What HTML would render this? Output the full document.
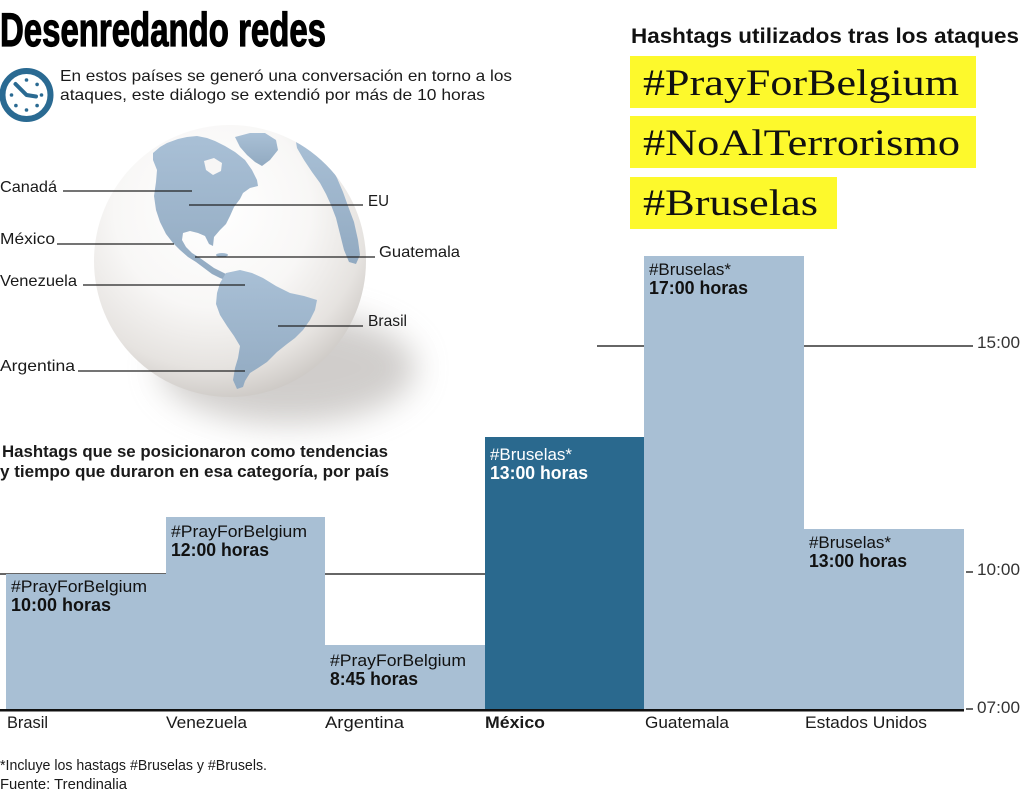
<!DOCTYPE html>
<html>
<head>
<meta charset="utf-8">
<style>
html,body{margin:0;padding:0;background:#ffffff;}
svg{display:block;}
</style>
</head>
<body>
<svg width="1024" height="793" viewBox="0 0 1024 793" xmlns="http://www.w3.org/2000/svg" font-family="'Liberation Sans', sans-serif">
  <defs>
    <radialGradient id="gl" cx="0.42" cy="0.32" r="0.72" fx="0.45" fy="0.3">
      <stop offset="0" stop-color="#ffffff"/>
      <stop offset="0.5" stop-color="#f8f7f6"/>
      <stop offset="0.8" stop-color="#e6e3e0"/>
      <stop offset="1" stop-color="#c9c5c1"/>
    </radialGradient>
    <linearGradient id="land" x1="0" y1="0" x2="0" y2="1">
      <stop offset="0" stop-color="#a9c0d6"/>
      <stop offset="1" stop-color="#92aac1"/>
    </linearGradient>
    <filter id="blur" x="-50%" y="-50%" width="200%" height="200%">
      <feGaussianBlur stdDeviation="16"/>
    </filter>
    <clipPath id="gc"><circle cx="230" cy="261" r="136"/></clipPath>
  </defs>

  <!-- Title -->
  <text x="0" y="46" font-size="47" font-weight="bold" fill="#000" stroke="#000" stroke-width="1.2" textLength="326" lengthAdjust="spacingAndGlyphs">Desenredando redes</text>

  <!-- Clock icon -->
  <circle cx="26.5" cy="95" r="24" fill="#fff" stroke="#2a6a92" stroke-width="6"/>
  <polyline points="15.5,84 26.5,95 36,96.5" fill="none" stroke="#2a6a92" stroke-width="4" stroke-linecap="round" stroke-linejoin="round"/>
  <g fill="#2a6a92">
    <circle cx="26.5" cy="80" r="1.8"/>
    <circle cx="37.1" cy="84.4" r="1.8"/>
    <circle cx="41.5" cy="95" r="1.8"/>
    <circle cx="37.1" cy="105.6" r="1.8"/>
    <circle cx="26.5" cy="110" r="1.8"/>
    <circle cx="15.9" cy="105.6" r="1.8"/>
    <circle cx="11.5" cy="95" r="1.8"/>
  </g>

  <!-- Subtitle -->
  <text x="60" y="81" font-size="16" fill="#1a1a1a" textLength="452" lengthAdjust="spacingAndGlyphs">En estos países se generó una conversación en torno a los</text>
  <text x="60" y="100" font-size="16" fill="#1a1a1a" textLength="425" lengthAdjust="spacingAndGlyphs">ataques, este diálogo se extendió por más de 10 horas</text>

  <!-- Right header + hashtags -->
  <text x="631" y="43" font-size="21" font-weight="bold" fill="#111" textLength="388" lengthAdjust="spacingAndGlyphs">Hashtags utilizados tras los ataques</text>
  <rect x="630" y="56" width="346" height="52" fill="#fdf92c"/>
  <rect x="630" y="116" width="346" height="52" fill="#fdf92c"/>
  <rect x="630" y="177" width="207" height="52" fill="#fdf92c"/>
  <g font-family="'Liberation Serif', serif" font-size="37" fill="#111">
    <text x="643" y="95" textLength="316" lengthAdjust="spacingAndGlyphs">#PrayForBelgium</text>
    <text x="643" y="155" textLength="317" lengthAdjust="spacingAndGlyphs">#NoAlTerrorismo</text>
    <text x="643" y="215" textLength="175" lengthAdjust="spacingAndGlyphs">#Bruselas</text>
  </g>

  <!-- Globe shadow -->
  <ellipse cx="288" cy="368" rx="128" ry="56" fill="#aaa6a2" opacity="0.55" filter="url(#blur)"/>
  <!-- Globe -->
  <circle cx="230" cy="261" r="136" fill="url(#gl)"/>
  <g clip-path="url(#gc)" fill="url(#land)">
    <!-- North America -->
    <path d="M153,153 L160,147 L167,143 L178,139 L187,137 L197,136 L207,138 L215,141 L225,146 L235,152 L245,160 L252,170 L257,180 L258,186 L250,188 L243,193 L240,199 L234,207 L230,216 L226,224 L220,230 L214,237 L213,246 L209,244 L205,236 L198,233 L190,231 L183,233 L182,240 L186,247 L192,253 L200,258 L207,263 L214,268 L222,272 L230,276 L234,280 L228,281 L220,278 L212,274 L204,268 L196,262 L188,257 L180,250 L173,243 L166,234 L160,222 L156,210 L154,196 L156,182 L157,170 L153,160 Z"/>
    <!-- Greenland -->
    <path d="M235,137 L250,133 L265,133 L276,140 L278,150 L270,160 L262,166 L255,162 L247,155 L240,147 Z"/>
    <!-- Europe / Africa -->
    <path d="M295,136 L308,143 L320,153 L330,165 L337,178 L343,192 L348,206 L354,222 L358,240 L360,255 L356,264 L349,262 L344,250 L340,234 L336,218 L331,205 L326,194 L320,183 L312,172 L304,160 L297,148 Z"/>
    <!-- South America -->
    <path d="M226,273 L240,270 L252,273 L263,278 L276,286 L290,293 L304,296 L317,300 L315,310 L310,320 L303,330 L295,338 L287,344 L277,352 L267,362 L258,368 L250,373 L245,381 L243,387 L237,389 L233,380 L235,368 L238,358 L240,346 L234,336 L227,326 L220,315 L216,304 L217,293 L220,283 Z"/>
    <ellipse cx="222" cy="255" rx="6" ry="2" />
  </g>
  <!-- Hudson Bay -->
  <path d="M204,161 L214,158 L222,163 L221,171 L213,175 L206,170 Z" fill="#f7f6f5"/>

  <!-- Globe labels -->
  <g font-size="16" fill="#1a1a1a">
    <text x="0" y="192" textLength="57" lengthAdjust="spacingAndGlyphs">Canadá</text>
    <text x="368" y="206" textLength="21" lengthAdjust="spacingAndGlyphs">EU</text>
    <text x="0" y="244" textLength="55" lengthAdjust="spacingAndGlyphs">México</text>
    <text x="379" y="257" textLength="81" lengthAdjust="spacingAndGlyphs">Guatemala</text>
    <text x="0" y="286" textLength="77" lengthAdjust="spacingAndGlyphs">Venezuela</text>
    <text x="368" y="326" textLength="39" lengthAdjust="spacingAndGlyphs">Brasil</text>
    <text x="0" y="371" textLength="75" lengthAdjust="spacingAndGlyphs">Argentina</text>
  </g>
  <g stroke="#222" stroke-width="1.3">
    <line x1="63" y1="191" x2="192" y2="191"/>
    <line x1="189" y1="205" x2="363" y2="205"/>
    <line x1="57" y1="244" x2="174" y2="244"/>
    <line x1="195" y1="257" x2="375" y2="257"/>
    <line x1="83" y1="285" x2="245" y2="285"/>
    <line x1="278" y1="326" x2="363" y2="326"/>
    <line x1="78" y1="371" x2="245" y2="371"/>
  </g>

  <!-- Chart subtitle -->
  <text x="2" y="457" font-size="16.5" font-weight="bold" fill="#1a1a1a" textLength="386" lengthAdjust="spacingAndGlyphs">Hashtags que se posicionaron como tendencias</text>
  <text x="0" y="477" font-size="16.5" font-weight="bold" fill="#1a1a1a" textLength="389" lengthAdjust="spacingAndGlyphs">y tiempo que duraron en esa categoría, por país</text>

  <!-- Gridlines -->
  <g stroke="#333" stroke-width="1.5">
    <line x1="0" y1="574" x2="485" y2="574"/>
    <line x1="597" y1="346" x2="973" y2="346"/>
    <line x1="966" y1="572" x2="973" y2="572"/>
    <line x1="966" y1="709" x2="973" y2="709"/>
  </g>

  <!-- Bars -->
  <rect x="6" y="574" width="160" height="136" fill="#a8bfd4"/>
  <rect x="166" y="517" width="159" height="193" fill="#a8bfd4"/>
  <rect x="325" y="645" width="160" height="65" fill="#a8bfd4"/>
  <rect x="485" y="437" width="159" height="273" fill="#2a698e"/>
  <rect x="644" y="256" width="160" height="454" fill="#a8bfd4"/>
  <rect x="804" y="529" width="160" height="181" fill="#a8bfd4"/>

  <!-- Baseline -->
  <rect x="0" y="709" width="964" height="2.5" fill="#111"/>

  <!-- Bar labels -->
  <g fill="#111">
    <text x="11" y="592" font-size="17" textLength="136" lengthAdjust="spacingAndGlyphs">#PrayForBelgium</text>
    <text x="11" y="611" font-size="18" font-weight="bold" textLength="100" lengthAdjust="spacingAndGlyphs">10:00 horas</text>

    <text x="171" y="537" font-size="17" textLength="136" lengthAdjust="spacingAndGlyphs">#PrayForBelgium</text>
    <text x="171" y="556" font-size="18" font-weight="bold" textLength="98" lengthAdjust="spacingAndGlyphs">12:00 horas</text>

    <text x="330" y="666" font-size="17" textLength="136" lengthAdjust="spacingAndGlyphs">#PrayForBelgium</text>
    <text x="330" y="685" font-size="18" font-weight="bold" textLength="88" lengthAdjust="spacingAndGlyphs">8:45 horas</text>

    <text x="490" y="460" font-size="17" fill="#fff" textLength="82" lengthAdjust="spacingAndGlyphs">#Bruselas*</text>
    <text x="490" y="479" font-size="18" font-weight="bold" fill="#fff" textLength="98" lengthAdjust="spacingAndGlyphs">13:00 horas</text>

    <text x="649" y="275" font-size="17" textLength="82" lengthAdjust="spacingAndGlyphs">#Bruselas*</text>
    <text x="649" y="294" font-size="18" font-weight="bold" textLength="99" lengthAdjust="spacingAndGlyphs">17:00 horas</text>

    <text x="809" y="548" font-size="17" textLength="82" lengthAdjust="spacingAndGlyphs">#Bruselas*</text>
    <text x="809" y="567" font-size="18" font-weight="bold" textLength="98" lengthAdjust="spacingAndGlyphs">13:00 horas</text>
  </g>

  <!-- Y tick labels -->
  <g font-size="17" fill="#333">
    <text x="977" y="348" textLength="43" lengthAdjust="spacingAndGlyphs">15:00</text>
    <text x="977" y="575" textLength="43" lengthAdjust="spacingAndGlyphs">10:00</text>
    <text x="977" y="713" textLength="43" lengthAdjust="spacingAndGlyphs">07:00</text>
  </g>

  <!-- X labels -->
  <g font-size="17" fill="#1a1a1a">
    <text x="7" y="728" textLength="41" lengthAdjust="spacingAndGlyphs">Brasil</text>
    <text x="166" y="728" textLength="81" lengthAdjust="spacingAndGlyphs">Venezuela</text>
    <text x="325" y="728" textLength="79" lengthAdjust="spacingAndGlyphs">Argentina</text>
    <text x="485" y="728" font-weight="bold" textLength="60" lengthAdjust="spacingAndGlyphs">México</text>
    <text x="645" y="728" textLength="84" lengthAdjust="spacingAndGlyphs">Guatemala</text>
    <text x="805" y="728" textLength="122" lengthAdjust="spacingAndGlyphs">Estados Unidos</text>
  </g>

  <!-- Footnote -->
  <g font-size="15" fill="#1a1a1a">
    <text x="0" y="770" textLength="267" lengthAdjust="spacingAndGlyphs">*Incluye los hastags #Bruselas y #Brusels.</text>
    <text x="0" y="789" textLength="127" lengthAdjust="spacingAndGlyphs">Fuente: Trendinalia</text>
  </g>
</svg>
</body>
</html>
